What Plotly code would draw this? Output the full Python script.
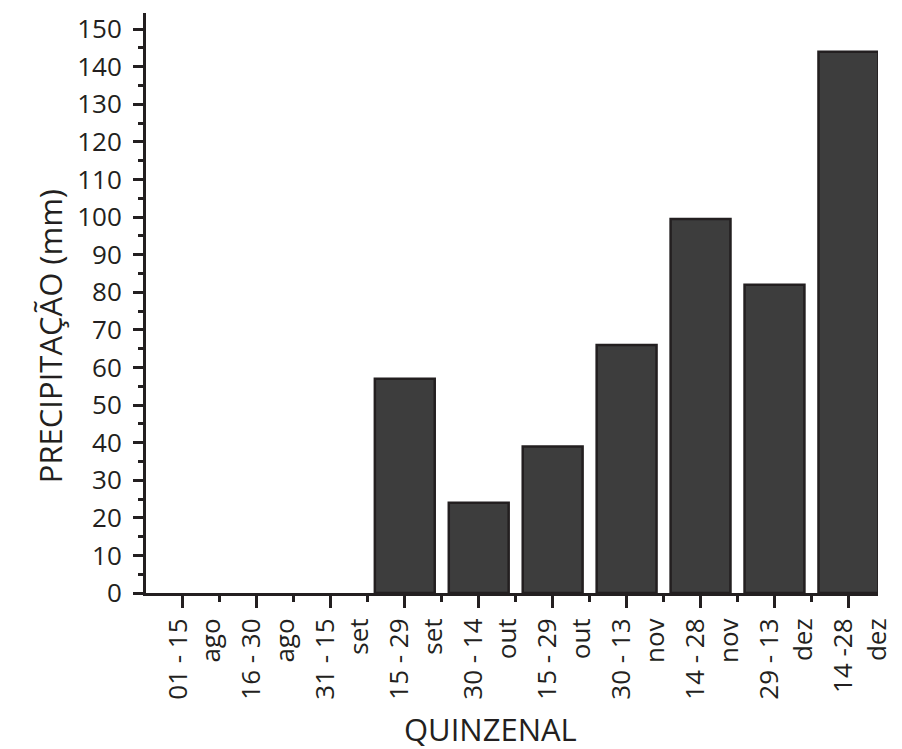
import plotly.graph_objects as go

categories = ["01 - 15<br>ago", "16 - 30<br>ago", "31 - 15<br>set", "15 - 29<br>set",
              "30 - 14<br>out", "15 - 29<br>out", "30 - 13<br>nov", "14 - 28<br>nov",
              "29 - 13<br>dez", "14 -28<br>dez"]
precip_mm = [0, 0, 0, 57, 24, 39, 66, 99.5, 82, 144]
y_ticks = list(range(0, 151, 10))
x_title = "QUINZENAL"
y_title = "PRECIPITAÇÃO (mm)"

positions = list(range(len(categories)))
boundaries = [p + 0.5 for p in positions[:-1]]
ink = "#231f20"
font = "Open Sans, Noto Sans, sans-serif"

fig = go.Figure(go.Bar(
    x=positions, y=precip_mm, width=0.81,
    marker=dict(color="#3d3d3d",
                line=dict(color=ink, width=[0 if v == 0 else 2.5 for v in precip_mm])),
))

fig.update_layout(
    width=902, height=749,
    margin=dict(l=146, r=24, t=13, b=156),
    paper_bgcolor="white", plot_bgcolor="white",
    showlegend=False,
    font=dict(family=font, color=ink, size=26),
    annotations=[
        dict(text=x_title, xref="paper", yref="paper", x=0.471, y=-0.2345,
             xanchor="center", yanchor="middle", showarrow=False, font=dict(size=31)),
        dict(text=y_title, xref="paper", yref="paper", x=-0.131, y=0.443, textangle=-90,
             xanchor="center", yanchor="middle", showarrow=False, font=dict(size=31)),
    ],
)
fig.update_xaxes(
    range=[-0.5, 9.4], tickmode="array", tickvals=positions, ticktext=categories,
    tickangle=-90, ticks="outside", ticklen=12, tickwidth=3, tickcolor=ink,
    showline=True, linecolor=ink, linewidth=3, showgrid=False, zeroline=False,
    minor=dict(tickmode="array", tickvals=boundaries, ticks="outside", ticklen=6,
               tickwidth=3, tickcolor=ink),
    automargin=False, ticklabelshift=12, ticklabelstandoff=0,
    tickfont=dict(size=26),
)
fig.update_yaxes(
    range=[0, 154.3], tickmode="array", tickvals=y_ticks,
    ticks="outside", ticklen=10, tickwidth=3, tickcolor=ink,
    showline=True, linecolor=ink, linewidth=3, showgrid=False, zeroline=False,
    minor=dict(tick0=5, dtick=10, ticks="outside", ticklen=5, tickwidth=3, tickcolor=ink),
    automargin=False, ticklabelstandoff=6,
    tickfont=dict(size=26),
)

fig.write_html("out.html", config={"displayModeBar": False},
               post_script="document.body.style.margin='0';")
